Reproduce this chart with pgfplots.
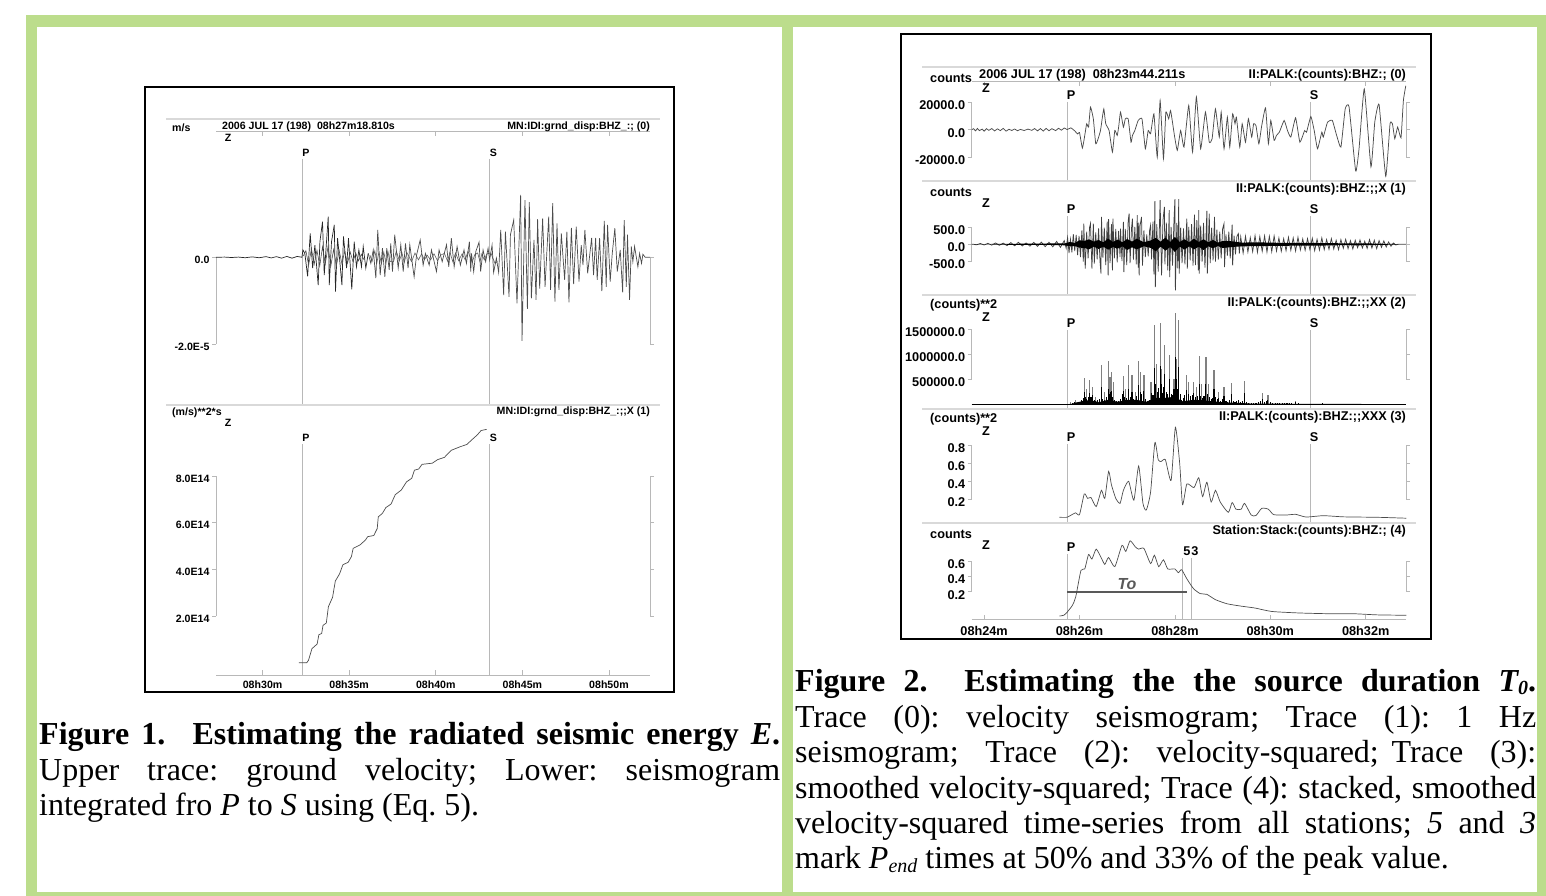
\documentclass[border=0pt]{standalone}
\usepackage{fontspec}
\usepackage{pgfplots}
\pgfplotsset{compat=1.18}
\setmainfont{Liberation Serif}
\setsansfont{Liberation Sans}
\frenchspacing
\definecolor{band}{HTML}{BCDD8C}
\definecolor{axg}{gray}{0.72}
\definecolor{trc}{gray}{0.3}
\newcommand{\fA}{\fontsize{10.6}{12}\selectfont\bfseries\sffamily}
\newcommand{\fB}{\fontsize{12.7}{14}\selectfont\bfseries\sffamily}
\newcommand{\capf}{\fontsize{32}{35.4}\selectfont\rmfamily\frenchspacing}
\newcommand{\jl}[1]{\hbox to 741pt{\spaceskip=0.25em plus 1fil minus 0.08em\relax #1}}
\newcommand{\nl}[1]{\hbox to 741pt{#1\hfil}}
\pgfplotsset{
  base/.style={scale only axis, clip=false, axis background/.style={}, tick align=outside,
    major tick length=4pt, separate axis lines,
    every outer x axis line/.append style={draw=none},
    every outer y axis line/.append style={axg, line width=0.7pt},
    xtick=\empty, ytick pos=both, yticklabel pos=left,
    y tick style={axg, line width=0.7pt}},
  f1/.style={base, width=434pt, xmin=27.31, xmax=52.37, yticklabel style={font=\fA, xshift=1pt, yshift=-2.5pt}},
  f2/.style={base, width=434.3pt, xmin=23.74, xmax=32.845, yticklabel style={font=\fB, xshift=1pt, yshift=-3pt}},
  frame/.style={scale only axis, clip=false, separate axis lines, tick align=inside, major tick length=5pt,
    every outer x axis line/.append style={axg, line width=0.7pt},
    every outer y axis line/.append style={draw=none},
    ytick=\empty, xtick pos=both, xticklabel pos=lower,
    x tick style={axg, line width=0.7pt}},
  pl/.style={axg, line width=0.8pt, forget plot},
  tr/.style={trc, line width=0.7pt, no markers},
}
\begin{document}
\begin{tikzpicture}[x=1pt,y=-1pt]
\useasboundingbox (0,0) rectangle (1546,896);
% background bands
\fill[band] (26,15) rectangle (1546,27);
\fill[band] (26,15) rectangle (37,896);
\fill[band] (782,15) rectangle (793,896);
\fill[band] (1537,15) rectangle (1546,896);
\fill[band] (26,892) rectangle (1546,896);

%%%% FIGURE 1
\begin{axis}[frame, at={(216pt,-675pt)}, anchor=south west, width=434pt, height=544pt,
  xmin=27.31, xmax=52.37, ymin=-675, ymax=-131,
  xtick={30,35,40,45,50}, xticklabels={08h30m,08h35m,08h40m,08h45m,08h50m},
  xticklabel style={font=\fA, yshift=-2pt}]
\addplot[pl] coordinates {(32.27,-159)(32.27,-405)};
\addplot[pl] coordinates {(43.12,-159)(43.12,-405)};
\addplot[pl] coordinates {(32.27,-444)(32.27,-675)};
\addplot[pl] coordinates {(43.12,-444)(43.12,-675)};
\end{axis}
\begin{axis}[f1, at={(216pt,-344pt)}, anchor=south west, height=86.7pt, ymin=-20, ymax=0,
  ytick={-20,0}, yticklabels={-2.0E-5,0.0}]
\addplot[black!85, line width=0.7pt, no markers] coordinates {
(27.31,0)(27.8,0.05)(28.2,-0.05)(28.6,0.05)(29.0,-0.1)(29.4,0.1)(29.8,-0.1)(30.2,0.15)(30.5,-0.15)(30.8,0.15)(31.1,-0.2)(31.4,0.2)(31.7,-0.2)(32.0,0.2)(32.27,0)
(32.33,1.7)(32.44,.9)(32.60,-4.4)(32.75,5.5)(32.89,-2.5)(33.02,2.8)(33.21,-6.4)(33.31,3.6)(33.46,8.2)(33.56,-4.1)(33.79,9.4)(33.85,-6.4)(33.98,3.6)(34.14,7.5)(34.21,-7.9)(34.33,4.4)(34.46,-1.0)(34.58,-6.4)(34.67,4.8)(34.85,-2.5)(34.96,4.4)(35.15,-7.4)(35.29,3.6)(35.42,-2.2)(35.56,1.7)(35.71,-2.2)(35.81,2.5)(35.96,-2.5)(36.10,0.9)};
\addplot[black!70, line width=0.6pt, no markers] coordinates {
(32.35,.3)(32.5,1.5)(32.66,-1.8)(32.82,2)(32.98,-1.6)(33.14,1.6)(33.3,-2)(33.46,2.4)(33.62,-1.5)(33.78,2.5)(33.94,-2)(34.1,1.8)(34.26,-2)(34.42,1.6)(34.58,-1.5)(34.74,1.4)(34.9,-1.4)(35.06,1.2)(35.22,-1)(35.38,1)(35.54,-.8)(35.7,.7)(35.86,-.6)};
\addplot[gray!75!black, line width=0.6pt, no markers] coordinates {
(36.2,.5)(36.32,-1)(36.48,1.5)(36.6,-1.2)(36.72,1.2)(36.86,-1.5)(37.0,1.2)(37.12,-1.4)(37.24,1.3)(37.36,-1)(37.56,-1)(37.72,1.4)(37.9,-.8)(38.05,1)(38.18,-1.2)(38.33,1.1)(38.6,-1)(38.8,1)(39.0,-.6)(39.18,.8)(39.34,-.6)(39.5,.5)(39.7,-.6)(39.9,.8)(40.1,-.8)(40.28,.5)(40.5,.9)(40.68,-.9)(40.82,1.2)(40.98,-1)(41.14,1)(41.32,-.8)(41.52,.8)(41.7,-.6)(41.86,1.4)(42.1,-1.2)(42.25,.6)(42.42,1)(42.55,-1)(42.66,.8)(42.8,-.6)(42.95,.8)(43.18,1)(43.42,-1.4)(43.56,-1)};
\addplot[tr] coordinates {
(36.10,0.9)(36.25,-1.4)(36.39,1.7)(36.54,-4.8)(36.65,6.3)(36.79,-4.1)(36.92,2.1)(37.06,-4.5)(37.17,2.1)(37.31,-2.9)(37.40,3.2)(37.50,-3.3)(37.63,5.2)(37.83,-2.5)(37.98,2.9)(38.12,-3.3)(38.25,3.2)(38.40,-2.5)(38.50,2.9)(38.75,-4.5)(38.89,.5)(39.10,4.0)(39.27,-1.8)(39.40,.9)(39.62,-1.8)(39.75,1.7)(40.04,-3.3)(40.19,1.7)(40.37,-1.0)(40.62,2.9)(40.75,-2.2)(40.90,4.4)(41.06,-2.2)(41.23,2.5)(41.42,-1.8)(41.63,1.7)(41.77,-1.4)(41.94,3.6)(42.02,-3.3)(42.06,.9)(42.19,-3.3)(42.31,1.3)(42.50,3.5)(42.59,-3.3)(42.73,1.7)(42.88,-1)(43.02,2.1)(43.11,-.6)(43.25,2.8)(43.34,-3.5)(43.5,-.2)(43.63,-3.5)(43.75,6.3)(43.92,-8.7)(44.02,5.9)(44.23,-9.1)(44.31,5.2)(44.50,8.6)(44.69,-10.6)(44.90,14.4)(44.98,-19.3)(45.15,13.2)(45.29,-11.9)(45.40,12.7)(45.52,-9.5)(45.67,4)(45.79,-9.8)(45.88,8.8)(46.0,-7.2)(46.17,9)(46.31,-6.8)(46.52,9.4)(46.63,-7.5)(46.75,12.5)(46.88,-10.2)(47.0,7.8)(47.11,-7.5)(47.25,5.5)(47.44,-5.2)(47.57,5.9)(47.69,-10.4)(47.83,6.8)(47.96,-6.2)(48.11,7.1)(48.27,-5.6)(48.40,2.8)(48.50,-1.8)(48.61,6.3)(48.77,-3.7)(49.0,4.5)(49.11,-4.1)(49.23,4.5)(49.32,-5.2)(49.46,4.4)(49.59,-7.8)(49.73,8.4)(49.84,-6.8)(49.92,7.5)(50.07,-5.6)(50.19,.9)(50.34,6.7)(50.48,-3.3)(50.65,1.7)(50.79,-8.1)(50.88,8.6)(51.0,-6.8)(51.07,5.2)(51.19,-9.8)(51.29,2.5)(51.38,-1)(51.48,2.5)(51.67,-2.2)(51.77,.9)(51.88,-1.4)(51.96,.7)(52.09,0)(52.37,0)};
\end{axis}
\begin{axis}[f1, at={(216pt,-616pt)}, anchor=south west, height=140pt, ymin=2, ymax=8,
  ytick={2,4,6,8}, yticklabels={2.0E14,4.0E14,6.0E14,8.0E14}]
\addplot[tr] coordinates {
(32.1,0)(32.55,0)(32.65,.1)(32.85,.6)(33.15,.8)(33.25,1.2)(33.41,1.25)(33.49,1.6)(33.68,1.7)(33.80,2.4)(34.04,2.8)(34.20,3.5)(34.44,3.8)(34.64,4.2)(34.94,4.3)(35.13,4.55)(35.23,4.9)(35.63,5.05)(35.93,5.25)(36.07,5.4)(36.42,5.45)(36.62,5.75)(36.68,6.25)(36.92,6.4)(37.12,6.65)(37.42,6.8)(37.66,7.2)(38.01,7.4)(38.31,7.75)(38.61,7.9)(38.77,8.25)(39.01,8.3)(39.21,8.5)(39.8,8.55)(40.1,8.7)(40.5,8.8)(40.89,9.1)(41.39,9.25)(41.79,9.35)(42.08,9.55)(42.38,9.75)(42.62,9.95)(42.94,10.0)};
\end{axis}

%%%% FIGURE 2
\begin{axis}[frame, at={(971.7pt,-619.7pt)}, anchor=south west, width=434.3pt, height=538.7pt,
  xmin=23.74, xmax=32.845, ymin=-619.7, ymax=-81,
  xtick={24,26,28,30,32}, xticklabels={08h24m,08h26m,08h28m,08h30m,08h32m},
  xticklabel style={font=\fB, yshift=-3pt}]
\foreach \a/\b in {102/181,216/295,330/409,444/523}{
\addplot[pl] coordinates {(25.74,-\a)(25.74,-\b)};
\addplot[pl] coordinates {(30.85,-\a)(30.85,-\b)};
}
\addplot[pl] coordinates {(25.74,-554)(25.74,-619.7)};
\addplot[pl] coordinates {(28.16,-558)(28.16,-619.7)};
\addplot[pl] coordinates {(28.34,-558)(28.34,-619.7)};
\addplot[gray!70!black, line width=1.5pt, forget plot] coordinates {(25.74,-592)(28.25,-592)};
\end{axis}
% trace 0
\begin{axis}[f2, at={(971.7pt,-157.3pt)}, anchor=south west, height=55pt, ymin=-20, ymax=20,
  ytick={-20,0,20}, yticklabels={-20000.0,0.0,20000.0}]
\addplot[tr, line width=0.75pt, smooth, tension=0.25] coordinates {
(23.74,0)(23.78,.8)(23.82,-.8)(23.86,1)(23.9,-.6)(23.96,.5)(24.0,-1)(24.05,.8)(24.1,-.4)(24.16,.9)(24.22,-.8)(24.28,.7)(24.34,-.6)(24.4,1)(24.46,-1)(24.52,.4)(24.58,-.5)(24.64,.6)(24.7,-.7)(24.76,.3)(24.84,-.5)(24.92,.5)(25.0,-.4)(25.06,.9)(25.12,-.8)(25.18,.9)(25.24,-.9)(25.3,1)(25.36,-.7)(25.42,.8)(25.5,-.6)(25.56,1.1)(25.62,-.3)(25.68,1.3)(25.74,.2)(25.82,1.4)(25.9,-.8)(25.96,-3)(26.0,-2)(26.06,-13.3)(26.11,-4.1)(26.15,4.4)(26.19,1.9)(26.23,16.5)(26.29,8)(26.34,-10.2)(26.39,-6.5)(26.44,-.5)(26.48,9.2)(26.51,15.2)(26.55,4.4)(26.62,-.5)(26.69,-16.2)(26.74,-.5)(26.79,-4.1)(26.82,1.9)(26.86,12.9)(26.92,1.9)(26.96,8)(27.02,8)(27.08,-9)(27.11,-4.1)(27.16,-.5)(27.23,6.8)(27.31,8)(27.38,-13.8)(27.44,-.5)(27.49,-2.9)(27.56,11.6)(27.63,-19.9)(27.69,21.3)(27.76,-21)(27.81,12.9)(27.87,8)(27.91,14)(27.99,-4.1)(28.05,-15.0)(28.12,-.5)(28.19,-12.6)(28.29,17.7)(28.37,-16.2)(28.45,24)(28.54,-13.8)(28.64,12.9)(28.72,-9)(28.78,-6.5)(28.85,15.2)(28.93,-5.3)(28.97,12.9)(29.03,-13.8)(29.10,9.2)(29.15,-12.6)(29.21,11.6)(29.26,4.4)(29.29,9.2)(29.36,-12.6)(29.41,4.4)(29.48,-9)(29.54,8)(29.61,-5.3)(29.65,4.4)(29.70,3)(29.76,-10.2)(29.82,3)(29.90,16)(29.96,-10.2)(30.01,6.8)(30.08,-7.7)(30.13,-4)(30.19,-1.7)(30.29,6.8)(30.36,-.5)(30.43,-5.3)(30.53,8.7)(30.62,-9)(30.72,-.5)(30.76,-1.7)(30.85,9.7)(30.92,-.5)(30.99,-13.8)(31.08,-1.7)(31.11,-5.3)(31.2,5.6)(31.3,6.8)(31.39,-4)(31.48,-12.6)(31.57,15.2)(31.65,16.9)(31.79,-30)(31.86,-13.8)(31.97,29.8)(32.11,-27)(32.19,5.6)(32.28,18.4)(32.42,-33.9)(32.51,4.4)(32.56,4.4)(32.61,-6.5)(32.67,2)(32.74,-5.8)(32.79,21.3)(32.84,32)};
\end{axis}
% trace 1
\begin{axis}[f2, at={(971.7pt,-261pt)}, anchor=south west, height=33.4pt, ymin=-500, ymax=500,
  ytick={-500,0,500}, yticklabels={-500.0,0.0,500.0}]
\addplot[black!75, line width=0.75pt, no markers] coordinates {
(23.74,0)(23.76,5)(23.84,-15)(23.92,25)(24.00,-20)(24.08,30)(24.16,-25)(24.24,40)(24.32,-30)(24.40,35)(24.48,-40)(24.56,50)(24.64,-45)(24.72,60)(24.80,-50)(24.88,40)(24.96,-55)(25.04,55)(25.12,-60)(25.20,65)(25.28,-70)(25.36,60)(25.44,-75)(25.52,85)(25.60,-90)(25.68,110)(25.72,-120)
(25.75,200)(25.78,-260)(25.81,150)(25.84,-240)(25.87,300)(25.90,-200)(25.93,280)(25.96,-320)(25.99,250)(26.02,-380)(26.05,420)(26.08,-520)(26.09,620)(26.12,-730)(26.15,380)(26.18,-420)(26.21,500)(26.23,620)(26.26,-730)(26.29,620)(26.31,-580)(26.34,360)(26.37,-450)(26.40,480)(26.43,-520)(26.45,-880)(26.46,820)(26.49,-400)(26.52,500)(26.55,-620)(26.58,680)(26.60,-930)(26.61,750)(26.64,-560)(26.67,600)(26.69,-780)(26.70,770)(26.73,-420)(26.76,460)(26.79,-540)(26.82,400)(26.85,-380)(26.86,470)(26.89,-500)(26.92,670)(26.93,-830)(26.96,460)(26.99,-620)(27.02,700)(27.04,920)(27.06,-560)(27.09,480)(27.11,770)(27.13,-460)(27.16,520)(27.19,-600)(27.21,870)(27.23,-700)(27.24,650)(27.25,-930)(27.27,560)(27.30,820)(27.32,-640)(27.35,420)(27.38,-380)(27.41,300)(27.44,-360)(27.47,420)(27.49,570)(27.51,-450)(27.54,680)(27.56,-900)(27.58,1290)(27.59,-1280)(27.62,600)(27.65,-820)(27.69,1320)(27.72,-930)(27.75,720)(27.78,1120)(27.79,-600)(27.82,650)(27.85,-780)(27.88,1020)(27.89,-980)(27.92,520)(27.95,-640)(27.98,700)(28.00,1350)(28.01,-1380)(28.04,640)(28.06,-720)(28.08,1350)(28.09,-880)(28.12,500)(28.15,-560)(28.18,480)(28.21,-600)(28.25,770)(28.26,-730)(28.29,520)(28.32,-480)(28.35,600)(28.38,-640)(28.41,890)(28.43,-620)(28.46,720)(28.49,-780)(28.50,1020)(28.51,-880)(28.54,560)(28.57,-520)(28.60,640)(28.63,-700)(28.67,1000)(28.68,-880)(28.72,920)(28.74,-560)(28.77,500)(28.80,-480)(28.83,820)(28.85,-520)(28.88,440)(28.91,-460)(28.94,380)(28.97,-420)(29.00,460)(29.03,620)(29.04,-680)(29.07,300)(29.10,-340)(29.13,380)(29.16,-420)(29.20,590)(29.21,-630)(29.24,260)(29.27,-300)(29.30,240)(29.33,320)(29.35,-280)
(29.38,220)(29.43,-260)(29.48,240)(29.53,-230)(29.58,200)(29.63,-220)(29.68,260)(29.73,-240)(29.78,230)(29.83,-210)(29.88,250)(29.93,-230)(29.98,240)(30.03,-220)(30.08,250)(30.13,-200)(30.18,190)(30.23,-210)(30.28,170)(30.33,-190)(30.38,210)(30.43,-180)(30.48,190)(30.53,-200)(30.58,210)(30.63,-170)(30.68,160)(30.73,-180)(30.78,170)(30.83,-160)(30.88,180)(30.93,-190)(30.98,150)(31.03,-170)(31.08,190)(31.13,-160)(31.18,140)(31.23,-150)(31.28,170)(31.33,-140)(31.38,120)(31.43,-160)(31.48,140)(31.53,-120)(31.58,150)(31.63,-130)(31.68,110)(31.73,-140)(31.78,120)(31.83,-100)(31.88,130)(31.93,-110)(31.98,90)(32.03,-120)(32.08,140)(32.13,-110)(32.18,120)(32.23,-130)(32.28,110)(32.33,-90)(32.38,100)(32.43,-80)(32.48,70)(32.53,-60)(32.58,40)(32.63,-20)(32.68,5)(32.84,0)};
\addplot[black, fill=black, draw=none, no markers] coordinates {(23.74,0)(24.2,10)(24.6,15)(25.0,20)(25.4,25)(25.7,30)(25.8,70)(25.9,40)(26.0,120)(26.1,100)(26.2,150)(26.3,80)(26.4,130)(26.5,60)(26.6,170)(26.7,70)(26.8,140)(26.9,60)(27.0,160)(27.1,80)(27.2,170)(27.35,60)(27.5,120)(27.6,190)(27.7,80)(27.8,200)(27.9,70)(28.0,220)(28.1,70)(28.2,150)(28.3,60)(28.4,170)(28.5,70)(28.6,150)(28.7,60)(28.8,130)(28.9,50)(29.0,100)(29.2,90)(29.4,50)(29.7,60)(30.0,50)(30.3,40)(30.6,40)(30.9,40)(31.2,35)(31.5,30)(31.8,25)(32.1,25)(32.4,15)(32.6,10)(32.7,0)
(32.6,-10)(32.4,-15)(32.1,-25)(31.8,-30)(31.5,-25)(31.2,-35)(30.9,-40)(30.6,-40)(30.3,-45)(30.0,-50)(29.7,-55)(29.4,-60)(29.2,-80)(29.0,-110)(28.9,-50)(28.8,-120)(28.7,-60)(28.6,-170)(28.5,-70)(28.4,-150)(28.3,-60)(28.2,-160)(28.1,-70)(28.0,-230)(27.9,-80)(27.8,-190)(27.7,-70)(27.6,-210)(27.5,-110)(27.35,-60)(27.2,-150)(27.1,-90)(27.0,-170)(26.9,-60)(26.8,-130)(26.7,-80)(26.6,-160)(26.5,-70)(26.4,-140)(26.3,-70)(26.2,-150)(26.1,-110)(26.0,-100)(25.9,-50)(25.8,-60)(25.7,-30)(25.4,-20)(25.0,-20)(24.6,-15)(24.2,-10)} \closedcycle;
\end{axis}
% trace 2
\begin{axis}[f2, at={(971.7pt,-404.3pt)}, anchor=south west, height=75pt, ymin=0, ymax=15,
  ytick={5,10,15}, yticklabels={500000.0,1000000.0,1500000.0},
  every outer y axis line/.append style={draw=none}]
\addplot[pl] coordinates {(23.74,5)(23.74,15)};
\addplot[pl] coordinates {(32.845,5)(32.845,15)};
\addplot[black!50, ycomb, line width=1.2pt, no markers] coordinates {
(25.81,.5)(25.92,.9)(26.10,5.2)(26.14,3)(26.21,4.9)(26.28,3.5)(26.34,1.5)(26.46,7.9)(26.53,2.5)(26.6,8.7)(26.64,5.5)(26.67,6.4)(26.72,4.5)(26.92,5.7)(26.96,3)(27.03,7.9)(27.1,5.9)(27.17,2.5)(27.24,8.7)(27.28,6.5)(27.35,5.9)(27.5,4.5)(27.58,15.9)(27.61,8)(27.69,16.2)(27.72,7)(27.79,11.9)(27.89,9.9)(27.98,5)(28.01,18.2)(28.04,9)(28.08,16.9)(28.25,5.9)(28.29,4.5)(28.39,4.5)(28.45,3.5)(28.51,9.7)(28.56,4)(28.65,9.5)(28.7,4)(28.82,6.9)(28.92,2.5)(29.03,3.5)(29.19,4.2)(29.46,4.7)(29.84,2.2)(29.95,1.9)(30.53,.7)};
\addplot[black, ycomb, line width=1.1pt, no markers] coordinates {
(25.85,.2)(25.9,.4)(25.95,.3)(26.0,.5)(26.05,.9)(26.08,1.2)(26.10,2.4)(26.12,1.5)(26.15,1.0)(26.18,1.4)(26.21,2.2)(26.24,1.5)(26.28,1.8)(26.31,.9)(26.34,.7)(26.38,.8)(26.42,1.0)(26.46,3.5)(26.49,1.0)(26.53,.8)(26.56,1.4)(26.60,3.0)(26.62,2.0)(26.65,2.4)(26.67,2.6)(26.70,1.4)(26.74,.8)(26.78,.7)(26.82,.6)(26.86,1.0)(26.90,2.0)(26.92,2.6)(26.95,1.5)(26.99,1.2)(27.03,3.0)(27.06,1.4)(27.10,2.4)(27.13,1.0)(27.17,.8)(27.20,1.6)(27.24,3.8)(27.27,2.4)(27.30,2.0)(27.35,2.6)(27.38,1.0)(27.42,.7)(27.46,.8)(27.50,2.2)(27.54,1.8)(27.58,7.2)(27.60,4.0)(27.63,2.4)(27.66,3.2)(27.69,7.6)(27.71,4.0)(27.74,2.2)(27.77,3.5)(27.79,6.0)(27.82,2.4)(27.85,2.0)(27.89,5.0)(27.92,2.0)(27.95,1.8)(27.98,3.0)(28.01,9.5)(28.03,5.0)(28.06,3.0)(28.08,7.5)(28.11,2.0)(28.14,.9)(28.18,1.2)(28.21,1.8)(28.25,2.8)(28.28,2.0)(28.32,1.6)(28.36,1.8)(28.39,2.2)(28.43,1.4)(28.47,1.6)(28.51,4.0)(28.54,1.6)(28.58,1.2)(28.61,1.6)(28.65,4.0)(28.68,2.0)(28.72,1.4)(28.76,1.0)(28.79,1.2)(28.82,3.0)(28.85,1.4)(28.89,1.0)(28.92,1.2)(28.96,.6)(29.0,1.0)(29.03,1.6)(29.07,.7)(29.11,.5)(29.15,.8)(29.19,2.0)(29.22,.7)(29.26,.5)(29.30,.7)(29.34,.9)(29.38,.5)(29.42,.7)(29.46,2.2)(29.50,.4)(29.55,.3)(29.60,.3)(29.65,.2)(29.7,.3)(29.75,.5)(29.8,.7)(29.84,1.0)(29.88,.5)(29.92,.6)(29.95,.9)(30.0,.4)(30.05,.2)(30.1,.2)(30.15,.3)(30.2,.2)(30.25,.2)(30.3,.25)(30.35,.2)(30.4,.25)(30.45,.2)(30.53,.4)(30.6,.2)(30.7,.15)(30.8,.1)(30.9,.15)(31.0,.15)(31.1,.2)(31.2,.15)(31.3,.15)(31.4,.15)(31.5,.15)(31.6,.1)(31.7,.15)(31.8,.1)(31.9,.1)(32.0,.1)(32.1,.1)(32.2,.1)(32.3,.1)(32.4,.1)};
\addplot[black, fill=black, draw=none, no markers] coordinates {(25.7,0)(25.85,.1)(25.9,.3)(26.05,.6)(26.1,.8)(26.3,.7)(26.4,.4)(26.6,.9)(26.8,.5)(27.0,.9)(27.2,.9)(27.4,.5)(27.6,1.3)(27.8,1.3)(28.0,1.5)(28.15,.6)(28.4,.9)(28.6,.8)(28.8,.6)(29.0,.4)(29.3,.3)(29.6,.15)(30,.15)(30.5,.1)(31.0,.08)(32.4,.05)(32.5,0)} \closedcycle;
\addplot[black, line width=0.6pt, no markers] coordinates {(23.74,0)(32.845,0)};
\end{axis}
% trace 3
\begin{axis}[f2, at={(971.7pt,-499.3pt)}, anchor=south west, height=54pt, ymin=.2, ymax=.8,
  ytick={.2,.4,.6,.8}, yticklabels={0.2,0.4,0.6,0.8}]
\addplot[tr, smooth, tension=0.35] coordinates {
(25.58,0)(25.74,0)(25.81,.02)(25.92,.05)(26.0,.03)(26.1,.26)(26.17,.21)(26.24,.22)(26.35,.12)(26.46,.3)(26.53,.21)(26.61,.51)(26.67,.36)(26.76,.21)(26.85,.155)(26.92,.30)(27.03,.40)(27.14,.19)(27.24,.57)(27.33,.155)(27.4,.08)(27.49,.28)(27.58,.83)(27.65,.64)(27.71,.62)(27.8,.64)(27.92,.41)(28.01,1.0)(28.1,.6)(28.16,.14)(28.25,.37)(28.4,.33)(28.5,.44)(28.58,.23)(28.67,.39)(28.76,.17)(28.85,.30)(28.95,.17)(29.12,.055)(29.2,.165)(29.28,.09)(29.39,.09)(29.46,.155)(29.6,.025)(29.7,.02)(29.82,.10)(29.96,.09)(30.07,.03)(30.32,.025)(30.53,.033)(30.75,.003)(31.11,.018)(31.54,.005)(32.25,0)(32.85,-.01)};
\end{axis}
% trace 4
\begin{axis}[f2, at={(971.7pt,-591.7pt)}, anchor=south west, height=30.4pt, ymin=.2, ymax=.6,
  ytick={.2,.4,.6}, yticklabels={0.2,0.4,0.6}]
\addplot[tr, smooth, tension=0.35] coordinates {
(25.58,-.12)(25.67,-.11)(25.74,-.07)(25.85,.02)(25.92,.13)(26.03,.48)(26.11,.5)(26.19,.69)(26.26,.63)(26.35,.76)(26.46,.64)(26.53,.56)(26.61,.65)(26.74,.53)(26.89,.81)(26.97,.73)(27.06,.87)(27.17,.79)(27.24,.76)(27.35,.77)(27.49,.57)(27.57,.68)(27.66,.53)(27.76,.62)(27.85,.5)(28.0,.5)(28.07,.45)(28.14,.49)(28.25,.37)(28.39,.24)(28.53,.175)(28.67,.165)(28.85,.095)(29.1,.04)(29.39,.01)(29.68,-.015)(30.03,-.06)(30.61,-.08)(31.25,-.09)(31.75,-.09)(32.25,-.105)(32.85,-.11)};
\end{axis}

% separators
\foreach \y in {119,405}{\draw[gray!30, line width=1.3pt] (166,\y)--(660,\y);}
\foreach \y in {67,181,295,409,523}{\draw[gray!30, line width=1.3pt] (922,\y)--(1416,\y);}
% frames
\draw[black, line width=2pt] (145,87) rectangle (674,692);
\draw[black, line width=2pt] (901,34) rectangle (1431,639);

% Fig 1 texts
\begin{scope}[every node/.style={inner sep=0pt, font=\fA}]
\node[anchor=west] at (172,128) {m/s};
\node[anchor=west] at (222,127) {2006 JUL 17 (198)\ \ 08h27m18.810s};
\node[anchor=east] at (650,127) {MN:IDI:grnd\_disp:BHZ\_:; (0)};
\node at (228,138) {Z}; \node at (306,153) {P}; \node at (493.5,153) {S};
\node[anchor=west] at (172,413) {(m/s)**2*s};
\node[anchor=east] at (650,412) {MN:IDI:grnd\_disp:BHZ\_:;;X (1)};
\node at (228,423) {Z}; \node at (306,438) {P}; \node at (493.5,438) {S};
\end{scope}
% Fig 2 texts
\begin{scope}[every node/.style={inner sep=0pt, font=\fB}]
\node[anchor=west] at (930,78) {counts};
\node[anchor=west] at (979,75) {2006 JUL 17 (198)\ \ 08h23m44.211s};
\node[anchor=east] at (1406,75) {II:PALK:(counts):BHZ:; (0)};
\node at (986,88) {Z}; \node at (1071,95) {P}; \node at (1314,95) {S};
\node[anchor=west] at (930,192) {counts};
\node[anchor=east] at (1406,189) {II:PALK:(counts):BHZ:;;X (1)};
\node at (986,203) {Z}; \node at (1071,209) {P}; \node at (1314,209) {S};
\node[anchor=west] at (930,305) {(counts)**2};
\node[anchor=east] at (1406,303) {II:PALK:(counts):BHZ:;;XX (2)};
\node at (986,317) {Z}; \node at (1071,323) {P}; \node at (1314,323) {S};
\node[anchor=west] at (930,419) {(counts)**2};
\node[anchor=east] at (1406,417) {II:PALK:(counts):BHZ:;;XXX (3)};
\node at (986,431) {Z}; \node at (1071,437) {P}; \node at (1314,437) {S};
\node[anchor=west] at (930,534) {counts};
\node[anchor=east] at (1406,531) {Station:Stack:(counts):BHZ:; (4)};
\node at (986,545) {Z}; \node at (1071,547) {P};
\node at (1187,551) {5}; \node at (1195,551) {3};
\node[text=gray!70!black, font=\fontsize{16}{17}\selectfont\bfseries\itshape\sffamily] at (1127,584) {To};
\end{scope}
% captions
\node[anchor=north west, inner sep=0pt, font=\capf] at (39,722.5) {\vbox{\baselineskip=35.4pt\lineskiplimit=-100pt
\jl{\textbf{Figure 1.\hspace{0.85em}Estimating the radiated seismic energy \textit{E}.}}
\jl{Upper trace: ground velocity; Lower: seismogram}
\nl{integrated fro \textit{P} to \textit{S} using (Eq. 5).}}};
\node[anchor=north west, inner sep=0pt, font=\capf] at (795,669.5) {\vbox{\baselineskip=35.4pt\lineskiplimit=-100pt
\jl{\textbf{Figure 2.\hspace{1.15em}Estimating the the source duration \textit{T\raisebox{-0.2ex}{\fontsize{20}{20}\selectfont 0}}.}}
\jl{Trace (0): velocity seismogram; Trace (1): 1 Hz}
\jl{seismogram; Trace (2): velocity-squared;\hspace{0.4em}Trace (3):}
\jl{smoothed velocity-squared; Trace (4): stacked, smoothed}
\jl{velocity-squared time-series from all stations; \textit{5} and \textit{3}}
\nl{mark \textit{P\raisebox{-0.25ex}{\fontsize{20}{20}\selectfont end}} times at 50\% and 33\% of the peak value.}}};
\end{tikzpicture}
\end{document}
